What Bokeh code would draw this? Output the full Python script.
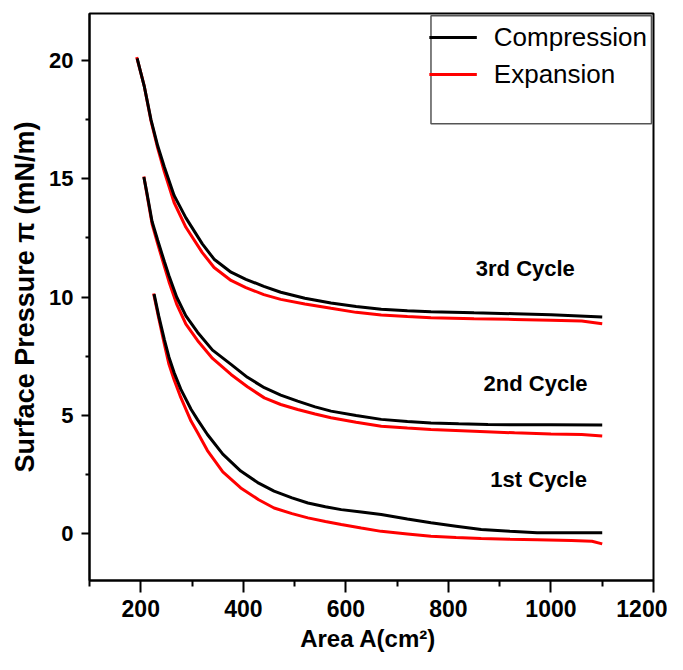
from bokeh.plotting import figure
from bokeh.models import Range1d, FixedTicker, Label, Legend, LegendItem, BoxAnnotation
from bokeh.embed import file_html
from bokeh.resources import INLINE

# ---- data ----
x3c = [193, 200, 207, 220, 233, 246, 265, 288, 320, 343, 376, 405, 440, 473, 520, 571, 620, 669, 720, 766, 850, 929, 1000, 1100]
y3c = [20.1, 19.5, 18.9, 17.5, 16.4, 15.5, 14.3, 13.35, 12.25, 11.6, 11.05, 10.75, 10.45, 10.2, 9.95, 9.75, 9.6, 9.48, 9.42, 9.38, 9.33, 9.29, 9.25, 9.15]
x3e = [192, 200, 207, 220, 233, 246, 265, 288, 320, 343, 376, 405, 440, 473, 520, 571, 620, 669, 720, 766, 850, 929, 1000, 1060, 1100]
y3e = [20.15, 19.5, 18.9, 17.45, 16.3, 15.3, 14.0, 12.95, 11.88, 11.25, 10.7, 10.4, 10.1, 9.9, 9.7, 9.52, 9.35, 9.24, 9.17, 9.12, 9.08, 9.05, 9.02, 8.98, 8.87]

x2c = [206, 212, 222, 233, 246, 255, 270, 288, 311, 340, 376, 408, 441, 473, 506, 540, 571, 620, 669, 720, 766, 820, 877, 1000, 1100]
y2c = [15.08, 14.4, 13.2, 12.4, 11.5, 10.9, 10.0, 9.2, 8.5, 7.75, 7.15, 6.6, 6.16, 5.85, 5.59, 5.35, 5.17, 4.98, 4.82, 4.73, 4.67, 4.63, 4.6, 4.59, 4.58]
x2e = [206, 212, 222, 233, 246, 255, 270, 288, 311, 340, 376, 408, 441, 473, 506, 540, 571, 620, 669, 720, 766, 850, 929, 1000, 1060, 1100]
y2e = [15.1, 14.35, 13.1, 12.25, 11.3, 10.65, 9.7, 8.85, 8.15, 7.4, 6.72, 6.2, 5.73, 5.45, 5.24, 5.05, 4.89, 4.7, 4.53, 4.45, 4.39, 4.32, 4.25, 4.2, 4.18, 4.12]

x1c = [226, 235, 246, 255, 265, 278, 298, 311, 330, 360, 395, 430, 460, 495, 526, 560, 591, 630, 669, 720, 766, 815, 864, 920, 973, 1040, 1100]
y1c = [10.12, 9.2, 8.2, 7.45, 6.8, 6.1, 5.25, 4.8, 4.18, 3.35, 2.63, 2.12, 1.78, 1.5, 1.28, 1.12, 1.0, 0.9, 0.79, 0.6, 0.44, 0.3, 0.16, 0.08, 0.02, 0.02, 0.02]
x1e = [225, 235, 246, 255, 265, 278, 298, 311, 330, 360, 395, 430, 460, 495, 526, 560, 591, 630, 669, 720, 766, 815, 864, 920, 973, 1040, 1080, 1100]
y1e = [10.15, 9.1, 8.0, 7.15, 6.5, 5.75, 4.75, 4.25, 3.5, 2.6, 1.92, 1.42, 1.07, 0.83, 0.65, 0.5, 0.37, 0.22, 0.08, -0.03, -0.13, -0.18, -0.22, -0.25, -0.27, -0.31, -0.34, -0.45]

x_major = [200, 400, 600, 800, 1000, 1200]
x_minor = [100, 300, 500, 700, 900, 1100]
y_major = [0, 5, 10, 15, 20]
y_minor = [-2.5, 2.5, 7.5, 12.5, 17.5]

cycle_names = ["3rd Cycle", "2nd Cycle", "1st Cycle"]
cycle_x = [950, 970, 976]
cycle_y = [11.21, 6.34, 2.28]

FONT = "Liberation Sans"

p = figure(width=667, height=654, x_range=Range1d(100, 1200), y_range=Range1d(-2, 22),
           output_backend="svg", toolbar_location=None,
           min_border_left=89, min_border_right=14, min_border_top=13, min_border_bottom=74)

p.xgrid.visible = False
p.ygrid.visible = False
p.outline_line_color = "black"
p.outline_line_width = 2
p.outline_line_alpha = 1

p.xaxis.ticker = FixedTicker(ticks=x_major, minor_ticks=x_minor)
p.yaxis.ticker = FixedTicker(ticks=y_major, minor_ticks=y_minor)

for ax in (p.xaxis, p.yaxis):
    ax.axis_line_width = 2
    ax.axis_line_color = "black"
    ax.major_tick_line_width = 2
    ax.minor_tick_line_width = 2
    ax.major_tick_line_color = "black"
    ax.minor_tick_line_color = "black"
    ax.major_tick_in = 0
    ax.minor_tick_in = 0
    ax.major_label_text_font = FONT
    ax.major_label_text_font_style = "bold"
    ax.major_label_text_color = "black"
    ax.axis_label_text_font = FONT
    ax.axis_label_text_font_style = "bold"
    ax.axis_label_text_color = "black"

p.xaxis.major_label_text_font_size = "23px"
p.yaxis.major_label_text_font_size = "22px"
p.xaxis.major_tick_out = 12
p.xaxis.minor_tick_out = 6
p.yaxis.major_tick_out = 8
p.yaxis.minor_tick_out = 4
p.xaxis.major_label_standoff = 7
p.yaxis.major_label_standoff = 8

p.yaxis.axis_label = "Surface Pressure \u03c0 (mN/m)"
p.yaxis.axis_label_text_font_size = "27px"
p.yaxis.axis_label_standoff = 6

p.xaxis.axis_label = "Area  A(cm\u00b2)"
p.xaxis.axis_label_text_font_size = "24px"
p.xaxis.axis_label_standoff = 5

LW = 3
rc = []
re = []
for xc, yc, xe, ye in [(x1c, y1c, x1e, y1e), (x2c, y2c, x2e, y2e), (x3c, y3c, x3e, y3e)]:
    re.append(p.line(xe, ye, line_color="#ff0000", line_width=LW))
    rc.append(p.line(xc, yc, line_color="black", line_width=LW))

for name, cx, cy in zip(cycle_names, cycle_x, cycle_y):
    p.add_layout(Label(x=cx, y=cy, text=name, text_align="center", text_baseline="middle",
                       text_font=FONT, text_font_style="bold", text_font_size="22px",
                       text_color="black"))

# legend box
p.add_layout(BoxAnnotation(left=766, right=1196, top=21.9, bottom=17.33,
                           fill_alpha=0, line_color="#555555", line_width=1.5, line_alpha=1))

legend = Legend(items=[LegendItem(label="Compression", renderers=[rc[2]]),
                       LegendItem(label="Expansion", renderers=[re[2]])],
                location="top_right", margin=2, padding=4, spacing=1,
                label_height=36, glyph_height=36, glyph_width=48, label_standoff=17,
                label_text_font=FONT, label_text_font_size="26px", label_text_color="black",
                border_line_alpha=0, background_fill_alpha=0)
p.add_layout(legend)

open("out.html", "w").write(file_html(p, INLINE))
